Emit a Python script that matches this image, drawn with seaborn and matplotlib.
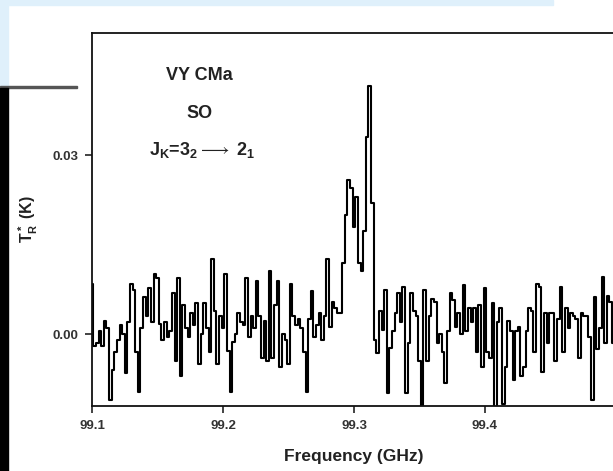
import numpy as np
import pandas as pd
import matplotlib.pyplot as plt
import seaborn as sns
from matplotlib.patches import Rectangle

# spectrum of SO toward VY CMa, antenna temperature per channel in mK
# channel spacing 2 MHz, first channel at 99.100 GHz
f_start = 99.100
chan_width = 0.002
tr_mK = [
    8.5, -2, -1.5, 0.5, -2, 2.3, 1, -11, -6, -3, -1, 1.5, 0, -6.5, 2, 8.4, 7.5,
    -3, -9.6, 1, 6.2, 3, 7.8, 2, 10.2, 9.5, 1.7, -1, 2, -0.5, 0.5, 7, -4.5, 9.5,
    -7, 5, 1, -0.5, 3.5, 1.5, 5.2, -5, 0, 5.2, 1, -3, 12.7, 4, -5, 3, 1, 10.2,
    -2.8, -9.6, -1.2, 0, 3.5, 2, 1.5, 9.5, -0.5, 3, 1, 8.9, 3, -4,
    2.3, -4.5, 10.7, -4, 5, 9, -5.5, 0, -1, -5, 8.4, 3, 1.5, 2.5, 1, -3, -9.6,
    2.5, 7.2, -0.5, 1.5, 3.5, -1, 3, 12.7, 1.2, 5.5, 4.5, 3.5, 3.5,
    12, 20, 25.8, 24.5, 18, 23, 12, 10.7, 17.4, 33, 41.7, 22, -1, -3.2, 4, 0.7,
    7.4, -9.9, -2.2,
    0.5, 3.5, 6.9, 2, 7.9, -9.9, -1.5, 6.9, 4, 3, -4.4, -12.2, 7.4, -4.4, 3, 6,
    5.5, -1.5, 0, -3, -8.2, 0.5, 6.9, 5.7, 1.2, 3.5, 0, 8.2, 0.5, 4.5, 2, 4.5,
    -3, 5, -5.5, 7.7, -3, -4, 5.2, -12.2, 2, 4.5,
    -11.6, -5.5, 2.3, 0.5, -7.7, 0.5, 1.2, -6.9, -5.5, 0.5, 4.5, 4, -3, 8.5, 8,
    -6.3, 3.5, -1.5, 3.5, 3.5, -4.5, 2.5, 7.9, -3, 4.5, 1, 3.5, 3, 2.5, -4, 3.5,
    3, 3, -0.5, -11, 6.2, -2.5, 1, 9.6, -1.5, 6.5, 5.5, -1.5, 12.4, -6,
]
x_ticks = [99.1, 99.2, 99.3, 99.4]
x_labels = ["99.1", "99.2", "99.3", "99.4"]
y_ticks = [0.00, 0.03]
y_labels = ["0.00", "0.03"]

spec = pd.DataFrame({
    "freq": f_start + chan_width * np.arange(len(tr_mK)),
    "tr": np.array(tr_mK) / 1000.0,
})

sns.set_style("ticks")
plt.rcParams["font.family"] = ["Liberation Sans", "DejaVu Sans"]
plt.rcParams["mathtext.fontset"] = "custom"
plt.rcParams["mathtext.rm"] = "Liberation Sans:bold"
plt.rcParams["mathtext.it"] = "Liberation Sans:bold"
plt.rcParams["mathtext.bf"] = "Liberation Sans:bold"

fig = plt.figure(figsize=(6.13, 4.71), dpi=100)
ax = fig.add_axes([92 / 613, 65 / 471, 524 / 613, 373 / 471])

sns.lineplot(data=spec, x="freq", y="tr", drawstyle="steps-mid",
             color="black", lw=1.5, estimator=None, sort=False, ax=ax)

ax.set_xlim(99.1, 99.5)
ax.set_ylim(-0.012, 0.0505)
ax.set_xticks(x_ticks)
ax.set_xticklabels(x_labels)
ax.set_yticks(y_ticks)
ax.set_yticklabels(y_labels)
ax.tick_params(axis="both", direction="out", length=5, width=1.2, pad=5,
               labelsize=9.5, labelcolor="#333333", color="#222222")
for lab in ax.get_xticklabels() + ax.get_yticklabels():
    lab.set_fontweight("bold")
for side in ["left", "bottom", "top"]:
    ax.spines[side].set_linewidth(1.3)
    ax.spines[side].set_color("#111111")
ax.spines["right"].set_visible(False)

ax.set_xlabel("Frequency (GHz)", fontsize=12.5, fontweight="bold",
              color="#222222", labelpad=12)
ax.set_ylabel(r"$T_R^*$ (K)", fontsize=11.5, fontweight="bold",
              color="#222222", labelpad=9)

ax.text(0.205, 0.885, "VY CMa", transform=ax.transAxes, fontsize=13,
        fontweight="bold", ha="center", va="center", color="#222222")
ax.text(0.205, 0.785, "SO", transform=ax.transAxes, fontsize=13,
        fontweight="bold", ha="center", va="center", color="#222222")
ax.text(0.21, 0.685, r"J$_K$=3$_2$$\longrightarrow$ 2$_1$",
        transform=ax.transAxes, fontsize=13, fontweight="bold",
        ha="center", va="center", color="#222222")

# screenshot frame pieces around the plot
fig.patches.append(Rectangle((7 / 613, 1 - 5 / 471), 546 / 613, 5 / 471,
                             transform=fig.transFigure, color="#dff0fb",
                             zorder=0))
fig.patches.append(Rectangle((0, 1 - 86 / 471), 8 / 613, 86 / 471,
                             transform=fig.transFigure, color="#dff0fb",
                             zorder=0))
fig.patches.append(Rectangle((0, 1 - 88 / 471), 77 / 613, 2 / 471,
                             transform=fig.transFigure, color="#555555",
                             zorder=0))
fig.patches.append(Rectangle((0, 0), 8 / 613, 1 - 88 / 471,
                             transform=fig.transFigure, color="black",
                             zorder=0))

fig.savefig("out.png", dpi=100)
